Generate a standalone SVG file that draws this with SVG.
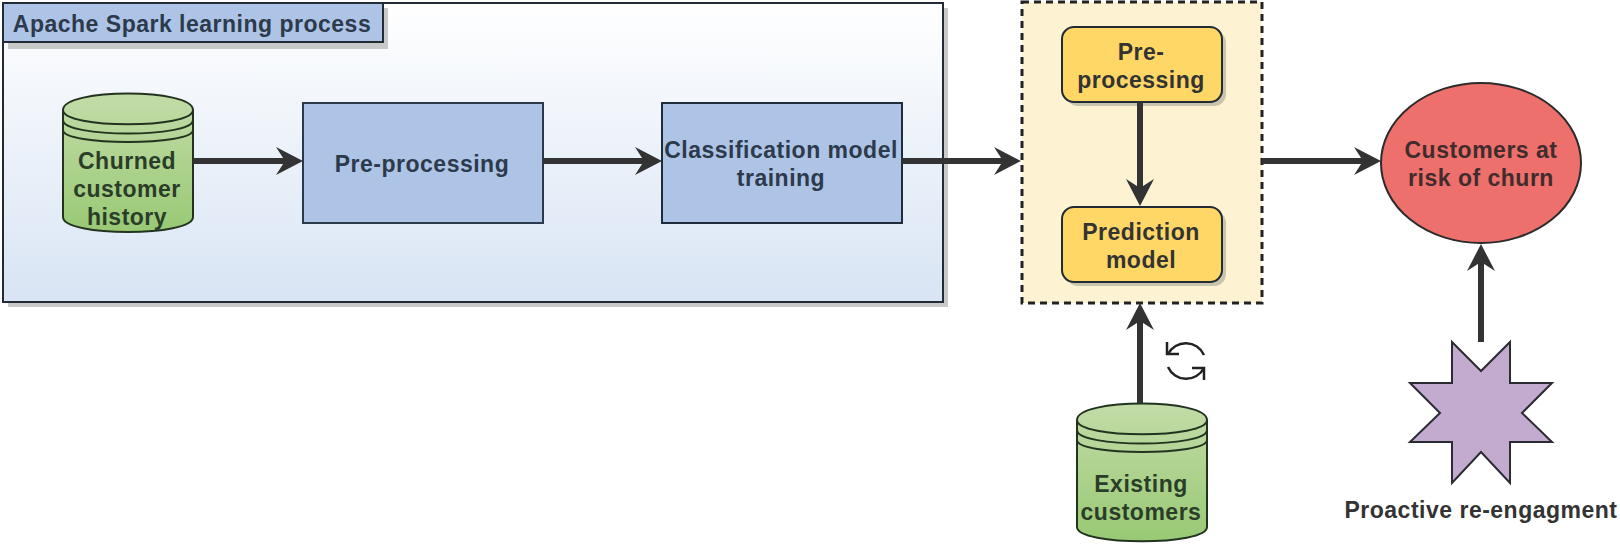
<svg xmlns="http://www.w3.org/2000/svg" width="1620" height="545" viewBox="0 0 1620 545">
<style>
text{font-family:"Liberation Sans",Arial,sans-serif;font-weight:700;font-size:23px;fill:#333;text-anchor:middle;letter-spacing:.5px}
.blue{fill:#2c3a4c}
.green{fill:#2a3d28}
.red{fill:#402c2c}
.s{stroke:#222b33;stroke-width:2}
.c{fill:none;stroke:#333;stroke-width:6}
.cy{stroke:#22331f;stroke-width:2}
.arc{fill:none;stroke:#22331f;stroke-width:2}
</style>
<defs>
<linearGradient id="pg" x1="0" y1="0" x2="0" y2="1"><stop offset="0" stop-color="#fff"/><stop offset="1" stop-color="#d8e4f4"/></linearGradient>
<linearGradient id="gg" x1="0" y1="0" x2="0" y2="1"><stop offset="0" stop-color="#c3dca8"/><stop offset="1" stop-color="#98c974"/></linearGradient>
<marker id="a" markerUnits="userSpaceOnUse" markerWidth="30" markerHeight="30" refX="12" refY="14" orient="auto"><path d="M0 0L27 14L0 28L9 14Z" fill="#333"/></marker>
</defs>
<g id="panel">
<rect x="8" y="8" width="940" height="299" fill="#c9c9c9"/>
<rect x="3" y="3" width="940" height="299" fill="url(#pg)" class="s"/>
</g>
<g id="title">
<rect x="8" y="8" width="380" height="41" fill="#c9c9c9"/>
<rect x="3" y="3" width="380" height="39" fill="#adc4e6" class="s"/>
<text class="blue" x="192" y="32">Apache Spark learning process</text>
</g>
<g id="history">
<path d="M63 110C63 88 193 88 193 110V217C193 237 63 237 63 217Z" fill="url(#gg)" class="cy"/>
<path class="arc" d="M63 110C63 129 193 129 193 110M63 120C63 138 193 138 193 120M63 130C63 146 193 146 193 130"/>
<text class="green" x="127" y="169">Churned</text><text class="green" x="127" y="197">customer</text><text class="green" x="127" y="225">history</text>
</g>
<g id="pre1">
<rect x="303" y="103" width="240" height="120" fill="#adc4e6" stroke="#2b3a4a" stroke-width="2"/>
<text class="blue" x="422" y="172">Pre-processing</text>
</g>
<g id="training">
<rect x="662" y="103" width="240" height="120" fill="#adc4e6" stroke="#1f2c3a" stroke-width="2"/>
<text class="blue" x="781" y="158">Classification model</text><text class="blue" x="781" y="186">training</text>
</g>
<g id="prediction-box">
<rect x="1022" y="2" width="240" height="301" fill="#fdf3d3" stroke="#222" stroke-width="3" stroke-dasharray="7 5"/>
</g>
<g id="pre2">
<rect x="1066" y="31" width="160" height="75" rx="12" fill="#c9c4ae"/>
<rect x="1062" y="27" width="160" height="75" rx="12" fill="#ffd766" class="s"/>
<text x="1141" y="60">Pre-</text><text x="1141" y="88">processing</text>
</g>
<g id="model">
<rect x="1066" y="211" width="160" height="75" rx="12" fill="#c9c4ae"/>
<rect x="1062" y="207" width="160" height="75" rx="12" fill="#ffd766" class="s"/>
<text x="1141" y="240">Prediction</text><text x="1141" y="268">model</text>
</g>
<g id="risk">
<ellipse cx="1481" cy="163" rx="100" ry="80" fill="#ee706c" stroke="#2b2b2b" stroke-width="2"/>
<text class="red" x="1481" y="158">Customers at</text><text class="red" x="1481" y="186">risk of churn</text>
</g>
<g id="existing">
<path d="M1077 420C1077 398 1207 398 1207 420V527C1207 546 1077 546 1077 527Z" fill="url(#gg)" class="cy"/>
<path class="arc" d="M1077 420C1077 439 1207 439 1207 420M1077 430C1077 448 1207 448 1207 430M1077 440C1077 456 1207 456 1207 440"/>
<text class="green" x="1141" y="492">Existing</text><text class="green" x="1141" y="520">customers</text>
</g>
<g id="reengage">
<path d="M1452 342L1481 371L1510 342V383H1552L1522 413L1552 442H1510V483L1481 452L1452 483V442H1410L1440 413L1410 383H1452Z" fill="#c3abd0" stroke="#2b2b33" stroke-width="2"/>
<text x="1481" y="518">Proactive re-engagment</text>
</g>
<g id="connectors">
<path class="c" d="M193 161H288" marker-end="url(#a)"/>
<path class="c" d="M543 161H647" marker-end="url(#a)"/>
<path class="c" d="M902 161H1006" marker-end="url(#a)"/>
<path class="c" d="M1140 102V191" marker-end="url(#a)"/>
<path class="c" d="M1262 161H1366" marker-end="url(#a)"/>
<path class="c" d="M1140 403V318" marker-end="url(#a)"/>
<path class="c" d="M1481 342V259" marker-end="url(#a)"/>
</g>
<g id="sync" fill="none" stroke="#222" stroke-width="2.5">
<path d="M1168 354A20 20 0 0 1 1204 355M1168 367A20 20 0 0 0 1204 368"/>
<path d="M1167 342V354H1179M1192 368H1204V380"/>
</g>
</svg>
